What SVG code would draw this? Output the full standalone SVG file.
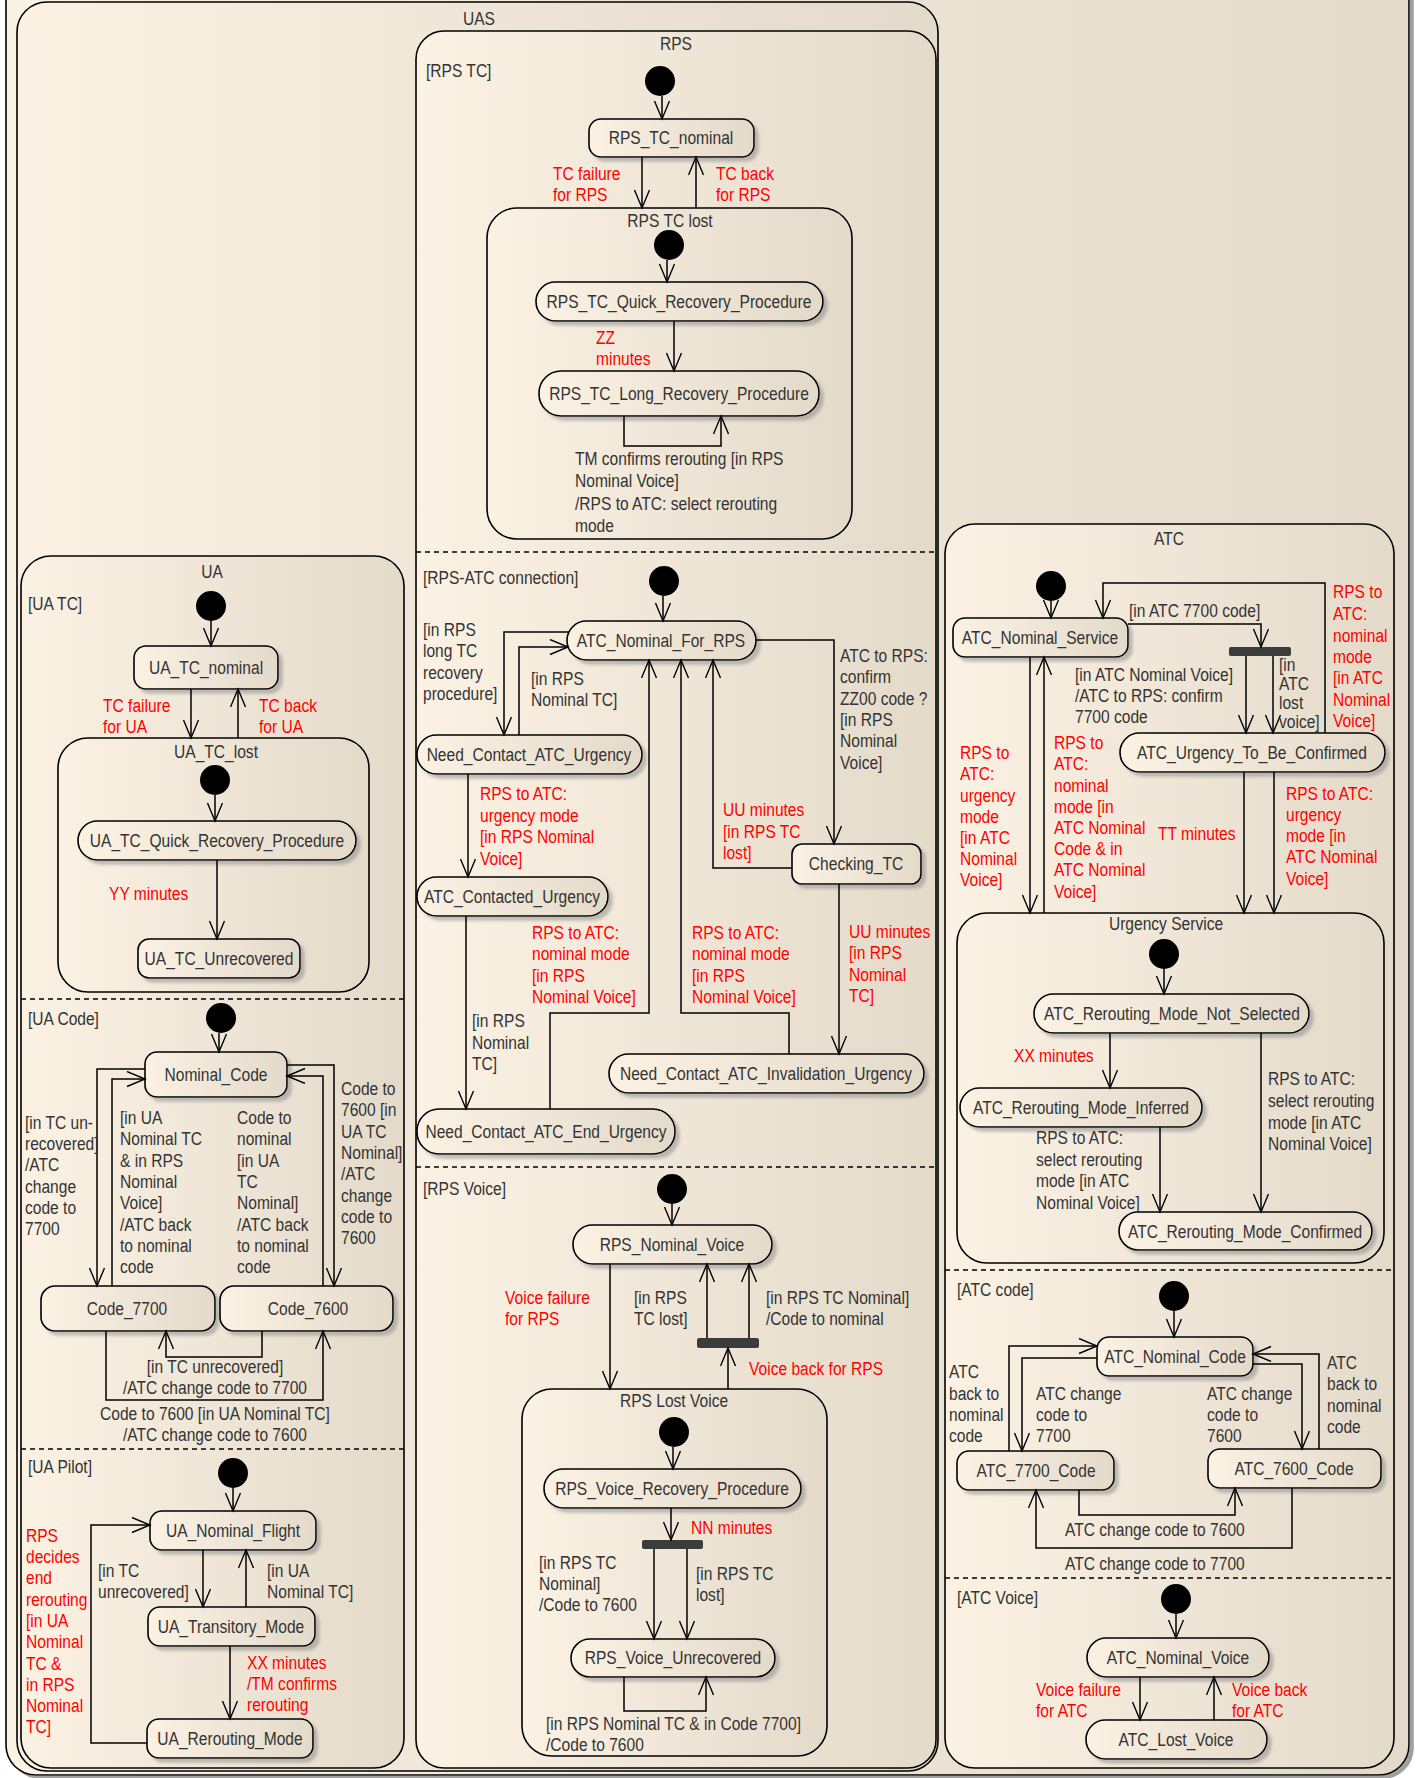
<svg xmlns="http://www.w3.org/2000/svg" width="1418" height="1778" viewBox="0 0 1418 1778">
<defs>
<linearGradient id="g" x1="0" y1="0" x2="1" y2="0">
<stop offset="0" stop-color="#FBF2E4"/><stop offset="1" stop-color="#E4DACA"/>
</linearGradient>
<filter id="sh" x="-10%" y="-20%" width="130%" height="160%">
<feDropShadow dx="4" dy="4" stdDeviation="1.5" flood-color="#7a7a7a" flood-opacity="0.45"/>
</filter>
<filter id="sh2" x="-5%" y="-5%" width="110%" height="110%">
<feDropShadow dx="4" dy="3" stdDeviation="0.6" flood-color="#888" flood-opacity="0.8"/>
</filter>
<marker id="a" markerUnits="userSpaceOnUse" markerWidth="22" markerHeight="18" refX="19" refY="8" orient="auto">
<path d="M1,0.5 L19,8 L1,15.5" fill="none" stroke="#000" stroke-width="1.4"/>
</marker>
<style>
.ct{fill:url(#g);stroke:#000;stroke-width:1.6}
.st{fill:url(#g);stroke:#000;stroke-width:1.6;filter:url(#sh)}
.dot{fill:#000}
.bar{fill:#3c3c3c}
.c{fill:none;stroke:#000;stroke-width:1.5;marker-end:url(#a)}
.d{fill:none;stroke:#000;stroke-width:1.3;stroke-dasharray:5 4}
text{font-family:"Liberation Sans Narrow","Liberation Sans",Arial,sans-serif;font-size:19px;fill:#333;transform-box:fill-box;transform-origin:0% 50%;transform:scaleX(0.82)}
.m{text-anchor:middle;transform-origin:50% 50%}
.r{fill:#FF0000}
</style>
</defs>

<g id="containers">
<rect x="6" y="-40" width="1403" height="1815" rx="30" class="ct" filter="url(#sh2)"/>
<rect id="UAS" x="17" y="2" width="921" height="1769" rx="30" class="ct"/>
<text class="m" x="479" y="25">UAS</text>
<rect id="RPS" x="416" y="31" width="520" height="1737" rx="28" class="ct"/>
<text class="m" x="676" y="50">RPS</text>
<line class="d" x1="416" y1="552" x2="936" y2="552"/>
<line class="d" x1="416" y1="1167" x2="936" y2="1167"/>
<text x="426" y="77">[RPS TC]</text>
<text x="423" y="584">[RPS-ATC connection]</text>
<text x="423" y="1195">[RPS Voice]</text>
<g id="RPS_TC_lost">
<rect x="487" y="208" width="365" height="331" rx="30" class="ct"/>
<text class="m" x="670" y="227">RPS TC lost</text>
</g>
<g id="RPS_Lost_Voice">
<rect x="522" y="1389" width="305" height="367" rx="30" class="ct"/>
<text class="m" x="674" y="1407">RPS Lost Voice</text>
</g>
<rect id="UA" x="21" y="556" width="383" height="1212" rx="30" class="ct"/>
<text class="m" x="212" y="578">UA</text>
<line class="d" x1="21" y1="999" x2="404" y2="999"/>
<line class="d" x1="21" y1="1449" x2="404" y2="1449"/>
<text x="28" y="610">[UA TC]</text>
<text x="28" y="1025">[UA Code]</text>
<text x="28" y="1473">[UA Pilot]</text>
<g id="UA_TC_lost">
<rect x="58" y="738" width="311" height="254" rx="30" class="ct"/>
<text class="m" x="216" y="758">UA_TC_lost</text>
</g>
<rect id="ATC" x="945" y="524" width="449" height="1244" rx="30" class="ct"/>
<text class="m" x="1169" y="545">ATC</text>
<line class="d" x1="945" y1="1270" x2="1394" y2="1270"/>
<line class="d" x1="945" y1="1578" x2="1394" y2="1578"/>
<text x="957" y="1296">[ATC code]</text>
<text x="957" y="1604">[ATC Voice]</text>
<g id="Urgency_Service">
<rect x="957" y="913" width="427" height="350" rx="30" class="ct"/>
<text class="m" x="1166" y="930">Urgency Service</text>
</g>
</g>

<g id="initial">
<circle class="dot" cx="660" cy="81" r="15"/>
<circle class="dot" cx="669" cy="245" r="15"/>
<circle class="dot" cx="664" cy="581" r="15"/>
<circle class="dot" cx="672" cy="1189" r="15"/>
<circle class="dot" cx="674" cy="1432" r="15"/>
<circle class="dot" cx="211" cy="606" r="15"/>
<circle class="dot" cx="215" cy="780" r="15"/>
<circle class="dot" cx="221" cy="1018" r="15"/>
<circle class="dot" cx="233" cy="1473" r="15"/>
<circle class="dot" cx="1051" cy="586" r="15"/>
<circle class="dot" cx="1164" cy="954" r="15"/>
<circle class="dot" cx="1174" cy="1296" r="15"/>
<circle class="dot" cx="1176" cy="1599" r="15"/>
<rect class="bar" x="697" y="1338" width="62" height="10" rx="2"/>
<rect class="bar" x="642" y="1540" width="61" height="9" rx="2"/>
<rect class="bar" x="1229" y="647" width="62" height="9" rx="2"/>
</g>

<g id="RPS_TC_nominal"><rect class="st" x="589" y="119" width="165" height="38" rx="12"/><text class="m" x="671" y="144">RPS_TC_nominal</text></g>
<g id="RPS_TC_Quick_Recovery_Procedure"><rect class="st" x="536" y="282" width="287" height="39" rx="19.5"/><text class="m" x="679" y="308">RPS_TC_Quick_Recovery_Procedure</text></g>
<g id="RPS_TC_Long_Recovery_Procedure"><rect class="st" x="539" y="371" width="280" height="45" rx="22"/><text class="m" x="679" y="400">RPS_TC_Long_Recovery_Procedure</text></g>
<g id="ATC_Nominal_For_RPS"><rect class="st" x="567" y="621" width="189" height="39" rx="19.5"/><text class="m" x="661" y="647">ATC_Nominal_For_RPS</text></g>
<g id="Need_Contact_ATC_Urgency"><rect class="st" x="417" y="735" width="225" height="39" rx="19.5"/><text class="m" x="529" y="761">Need_Contact_ATC_Urgency</text></g>
<g id="ATC_Contacted_Urgency"><rect class="st" x="417" y="877" width="191" height="39" rx="19.5"/><text class="m" x="512" y="903">ATC_Contacted_Urgency</text></g>
<g id="Checking_TC"><rect class="st" x="792" y="844" width="129" height="40" rx="10"/><text class="m" x="856" y="870">Checking_TC</text></g>
<g id="Need_Contact_ATC_Invalidation_Urgency"><rect class="st" x="609" y="1054" width="315" height="39" rx="19.5"/><text class="m" x="766" y="1080">Need_Contact_ATC_Invalidation_Urgency</text></g>
<g id="Need_Contact_ATC_End_Urgency"><rect class="st" x="417" y="1109" width="258" height="45" rx="22"/><text class="m" x="546" y="1138">Need_Contact_ATC_End_Urgency</text></g>
<g id="RPS_Nominal_Voice"><rect class="st" x="573" y="1225" width="199" height="39" rx="19.5"/><text class="m" x="672" y="1251">RPS_Nominal_Voice</text></g>
<g id="RPS_Voice_Recovery_Procedure"><rect class="st" x="544" y="1469" width="257" height="39" rx="19.5"/><text class="m" x="672" y="1495">RPS_Voice_Recovery_Procedure</text></g>
<g id="RPS_Voice_Unrecovered"><rect class="st" x="571" y="1639" width="204" height="38" rx="19"/><text class="m" x="673" y="1664">RPS_Voice_Unrecovered</text></g>
<g id="UA_TC_nominal"><rect class="st" x="134" y="646" width="144" height="43" rx="12"/><text class="m" x="206" y="674">UA_TC_nominal</text></g>
<g id="UA_TC_Quick_Recovery_Procedure"><rect class="st" x="78" y="821" width="278" height="39" rx="19.5"/><text class="m" x="217" y="847">UA_TC_Quick_Recovery_Procedure</text></g>
<g id="UA_TC_Unrecovered"><rect class="st" x="138" y="939" width="162" height="39" rx="11"/><text class="m" x="219" y="965">UA_TC_Unrecovered</text></g>
<g id="Nominal_Code"><rect class="st" x="145" y="1052" width="142" height="45" rx="12"/><text class="m" x="216" y="1081">Nominal_Code</text></g>
<g id="Code_7700"><rect class="st" x="41" y="1286" width="174" height="45" rx="14"/><text class="m" x="127" y="1315">Code_7700</text></g>
<g id="Code_7600"><rect class="st" x="220" y="1286" width="173" height="45" rx="14"/><text class="m" x="308" y="1315">Code_7600</text></g>
<g id="UA_Nominal_Flight"><rect class="st" x="150" y="1511" width="166" height="39" rx="12"/><text class="m" x="233" y="1537">UA_Nominal_Flight</text></g>
<g id="UA_Transitory_Mode"><rect class="st" x="148" y="1607" width="167" height="39" rx="12"/><text class="m" x="231" y="1633">UA_Transitory_Mode</text></g>
<g id="UA_Rerouting_Mode"><rect class="st" x="147" y="1719" width="166" height="39" rx="12"/><text class="m" x="230" y="1745">UA_Rerouting_Mode</text></g>
<g id="ATC_Nominal_Service"><rect class="st" x="953" y="618" width="175" height="39" rx="12"/><text class="m" x="1040" y="644">ATC_Nominal_Service</text></g>
<g id="ATC_Urgency_To_Be_Confirmed"><rect class="st" x="1120" y="733" width="265" height="39" rx="19.5"/><text class="m" x="1252" y="759">ATC_Urgency_To_Be_Confirmed</text></g>
<g id="ATC_Rerouting_Mode_Not_Selected"><rect class="st" x="1034" y="994" width="275" height="39" rx="19.5"/><text class="m" x="1172" y="1020">ATC_Rerouting_Mode_Not_Selected</text></g>
<g id="ATC_Rerouting_Mode_Inferred"><rect class="st" x="960" y="1088" width="242" height="39" rx="19.5"/><text class="m" x="1081" y="1114">ATC_Rerouting_Mode_Inferred</text></g>
<g id="ATC_Rerouting_Mode_Confirmed"><rect class="st" x="1119" y="1212" width="253" height="38" rx="19"/><text class="m" x="1245" y="1238">ATC_Rerouting_Mode_Confirmed</text></g>
<g id="ATC_Nominal_Code"><rect class="st" x="1097" y="1337" width="156" height="39" rx="12"/><text class="m" x="1175" y="1363">ATC_Nominal_Code</text></g>
<g id="ATC_7700_Code"><rect class="st" x="957" y="1451" width="157" height="39" rx="12"/><text class="m" x="1036" y="1477">ATC_7700_Code</text></g>
<g id="ATC_7600_Code"><rect class="st" x="1208" y="1449" width="173" height="39" rx="12"/><text class="m" x="1294" y="1475">ATC_7600_Code</text></g>
<g id="ATC_Nominal_Voice"><rect class="st" x="1087" y="1638" width="182" height="39" rx="19.5"/><text class="m" x="1178" y="1664">ATC_Nominal_Voice</text></g>
<g id="ATC_Lost_Voice"><rect class="st" x="1086" y="1720" width="181" height="39" rx="19.5"/><text class="m" x="1176" y="1746">ATC_Lost_Voice</text></g>

<g id="connectors">
<path class="c" d="M662,96 V119"/>
<path class="c" d="M667,260 V282"/>
<path class="c" d="M663,596 V621"/>
<path class="c" d="M672,1204 V1225"/>
<path class="c" d="M673,1447 V1469"/>
<path class="c" d="M211,621 V646"/>
<path class="c" d="M215,795 V821"/>
<path class="c" d="M219,1033 V1052"/>
<path class="c" d="M233,1488 V1511"/>
<path class="c" d="M1051,601 V618"/>
<path class="c" d="M1164,969 V994"/>
<path class="c" d="M1174,1311 V1337"/>
<path class="c" d="M1176,1614 V1638"/>

<path class="c" d="M642,157 V208"/>
<path class="c" d="M696,208 V157"/>
<path class="c" d="M674,321 V371"/>
<path class="c" d="M624,416 V446 H721 V416"/>

<path class="c" d="M569,632 H504 V735"/>
<path class="c" d="M519,735 V647 H568"/>
<path class="c" d="M756,640 H834 V844"/>
<path class="c" d="M792,868 H713 V660"/>
<path class="c" d="M468,774 V877"/>
<path class="c" d="M466,916 V1109"/>
<path class="c" d="M550,1109 V1013 H649 V660"/>
<path class="c" d="M789,1054 V1013 H681 V660"/>
<path class="c" d="M839,884 V1054"/>

<path class="c" d="M610,1264 V1389"/>
<path class="c" d="M707,1338 V1264"/>
<path class="c" d="M749,1338 V1264"/>
<path class="c" d="M728,1389 V1348"/>
<path class="c" d="M671,1508 V1540"/>
<path class="c" d="M654,1549 V1639"/>
<path class="c" d="M687,1549 V1639"/>
<path class="c" d="M624,1677 V1711 H706 V1677"/>

<path class="c" d="M191,689 V738"/>
<path class="c" d="M238,738 V689"/>
<path class="c" d="M217,860 V939"/>

<path class="c" d="M145,1069 H97 V1286"/>
<path class="c" d="M112,1286 V1079 H145"/>
<path class="c" d="M323,1286 V1076 H287"/>
<path class="c" d="M287,1065 H334 V1286"/>
<path class="c" d="M262,1331 V1357 H166 V1331"/>
<path class="c" d="M106,1331 V1400 H323 V1331"/>

<path class="c" d="M203,1550 V1607"/>
<path class="c" d="M246,1607 V1550"/>
<path class="c" d="M230,1646 V1719"/>
<path class="c" d="M147,1743 H91 V1525 H150"/>

<path class="c" d="M1325,733 V583 H1103 V618"/>
<path class="c" d="M1128,624 H1261 V647"/>
<path class="c" d="M1246,656 V733"/>
<path class="c" d="M1273,656 V733"/>
<path class="c" d="M1030,657 V913"/>
<path class="c" d="M1044,913 V657"/>
<path class="c" d="M1244,772 V913"/>
<path class="c" d="M1274,772 V913"/>

<path class="c" d="M1110,1033 V1088"/>
<path class="c" d="M1261,1033 V1212"/>
<path class="c" d="M1160,1127 V1212"/>

<path class="c" d="M1009,1451 V1346 H1097"/>
<path class="c" d="M1097,1358 H1022 V1451"/>
<path class="c" d="M1253,1364 H1302 V1449"/>
<path class="c" d="M1319,1449 V1354 H1253"/>
<path class="c" d="M1079,1490 V1515 H1235 V1488"/>
<path class="c" d="M1292,1488 V1548 H1036 V1490"/>

<path class="c" d="M1140,1677 V1720"/>
<path class="c" d="M1214,1720 V1677"/>
</g>

<g id="labels">
<text class="r" x="553" y="180">TC failure<tspan x="553" y="201">for RPS</tspan></text>
<text class="r" x="716" y="180">TC back<tspan x="716" y="201">for RPS</tspan></text>
<text class="r" x="596" y="344">ZZ<tspan x="596" y="365">minutes</tspan></text>
<text x="575" y="465">TM confirms rerouting [in RPS<tspan x="575" y="487">Nominal Voice]</tspan><tspan x="575" y="510">/RPS to ATC: select rerouting</tspan><tspan x="575" y="532">mode</tspan></text>

<text x="423" y="636">[in RPS<tspan x="423" y="657">long TC</tspan><tspan x="423" y="679">recovery</tspan><tspan x="423" y="700">procedure]</tspan></text>
<text x="531" y="685">[in RPS<tspan x="531" y="706">Nominal TC]</tspan></text>
<text x="840" y="662">ATC to RPS:<tspan x="840" y="683">confirm</tspan><tspan x="840" y="705">ZZ00 code ?</tspan><tspan x="840" y="726">[in RPS</tspan><tspan x="840" y="747">Nominal</tspan><tspan x="840" y="769">Voice]</tspan></text>
<text class="r" x="480" y="800">RPS to ATC:<tspan x="480" y="822">urgency mode</tspan><tspan x="480" y="843">[in RPS Nominal</tspan><tspan x="480" y="865">Voice]</tspan></text>
<text class="r" x="723" y="816">UU minutes<tspan x="723" y="838">[in RPS TC</tspan><tspan x="723" y="859">lost]</tspan></text>
<text class="r" x="532" y="939">RPS to ATC:<tspan x="532" y="960">nominal mode</tspan><tspan x="532" y="982">[in RPS</tspan><tspan x="532" y="1003">Nominal Voice]</tspan></text>
<text class="r" x="692" y="939">RPS to ATC:<tspan x="692" y="960">nominal mode</tspan><tspan x="692" y="982">[in RPS</tspan><tspan x="692" y="1003">Nominal Voice]</tspan></text>
<text class="r" x="849" y="938">UU minutes<tspan x="849" y="959">[in RPS</tspan><tspan x="849" y="981">Nominal</tspan><tspan x="849" y="1002">TC]</tspan></text>
<text x="472" y="1027">[in RPS<tspan x="472" y="1049">Nominal</tspan><tspan x="472" y="1070">TC]</tspan></text>

<text class="r" x="505" y="1304">Voice failure<tspan x="505" y="1325">for RPS</tspan></text>
<text x="634" y="1304">[in RPS<tspan x="634" y="1325">TC lost]</tspan></text>
<text x="766" y="1304">[in RPS TC Nominal]<tspan x="766" y="1325">/Code to nominal</tspan></text>
<text class="r" x="749" y="1375">Voice back for RPS</text>
<text class="r" x="691" y="1534">NN minutes</text>
<text x="539" y="1569">[in RPS TC<tspan x="539" y="1590">Nominal]</tspan><tspan x="539" y="1611">/Code to 7600</tspan></text>
<text x="696" y="1580">[in RPS TC<tspan x="696" y="1601">lost]</tspan></text>
<text x="546" y="1730">[in RPS Nominal TC &amp; in Code 7700]<tspan x="546" y="1751">/Code to 7600</tspan></text>

<text class="r" x="103" y="712">TC failure<tspan x="103" y="733">for UA</tspan></text>
<text class="r" x="259" y="712">TC back<tspan x="259" y="733">for UA</tspan></text>
<text class="r" x="109" y="900">YY minutes</text>

<text x="25" y="1129">[in TC un-<tspan x="25" y="1150">recovered]</tspan><tspan x="25" y="1171">/ATC</tspan><tspan x="25" y="1193">change</tspan><tspan x="25" y="1214">code to</tspan><tspan x="25" y="1235">7700</tspan></text>
<text x="120" y="1124">[in UA<tspan x="120" y="1145">Nominal TC</tspan><tspan x="120" y="1167">&amp; in RPS</tspan><tspan x="120" y="1188">Nominal</tspan><tspan x="120" y="1209">Voice]</tspan><tspan x="120" y="1231">/ATC back</tspan><tspan x="120" y="1252">to nominal</tspan><tspan x="120" y="1273">code</tspan></text>
<text x="237" y="1124">Code to<tspan x="237" y="1145">nominal</tspan><tspan x="237" y="1167">[in UA</tspan><tspan x="237" y="1188">TC</tspan><tspan x="237" y="1209">Nominal]</tspan><tspan x="237" y="1231">/ATC back</tspan><tspan x="237" y="1252">to nominal</tspan><tspan x="237" y="1273">code</tspan></text>
<text x="341" y="1095">Code to<tspan x="341" y="1116">7600 [in</tspan><tspan x="341" y="1138">UA TC</tspan><tspan x="341" y="1159">Nominal]</tspan><tspan x="341" y="1180">/ATC</tspan><tspan x="341" y="1202">change</tspan><tspan x="341" y="1223">code to</tspan><tspan x="341" y="1244">7600</tspan></text>
<text class="m" x="215" y="1373">[in TC unrecovered]<tspan x="215" y="1394">/ATC change code to 7700</tspan></text>
<text class="m" x="215" y="1420">Code to 7600 [in UA Nominal TC]<tspan x="215" y="1441">/ATC change code to 7600</tspan></text>

<text x="98" y="1577">[in TC<tspan x="98" y="1598">unrecovered]</tspan></text>
<text x="267" y="1577">[in UA<tspan x="267" y="1598">Nominal TC]</tspan></text>
<text class="r" x="247" y="1669">XX minutes<tspan x="247" y="1690">/TM confirms</tspan><tspan x="247" y="1711">rerouting</tspan></text>
<text class="r" x="26" y="1542">RPS<tspan x="26" y="1563">decides</tspan><tspan x="26" y="1584">end</tspan><tspan x="26" y="1606">rerouting</tspan><tspan x="26" y="1627">[in UA</tspan><tspan x="26" y="1648">Nominal</tspan><tspan x="26" y="1670">TC &amp;</tspan><tspan x="26" y="1691">in RPS</tspan><tspan x="26" y="1712">Nominal</tspan><tspan x="26" y="1733">TC]</tspan></text>

<text x="1129" y="617">[in ATC 7700 code]</text>
<text class="r" x="1333" y="598">RPS to<tspan x="1333" y="620">ATC:</tspan><tspan x="1333" y="642">nominal</tspan><tspan x="1333" y="663">mode</tspan><tspan x="1333" y="684">[in ATC</tspan><tspan x="1333" y="706">Nominal</tspan><tspan x="1333" y="727">Voice]</tspan></text>
<text x="1279" y="671">[in<tspan x="1279" y="690">ATC</tspan><tspan x="1279" y="709">lost</tspan><tspan x="1279" y="728">voice]</tspan></text>
<text x="1075" y="681">[in ATC Nominal Voice]<tspan x="1075" y="702">/ATC to RPS: confirm</tspan><tspan x="1075" y="723">7700 code</tspan></text>
<text class="r" x="960" y="759">RPS to<tspan x="960" y="780">ATC:</tspan><tspan x="960" y="802">urgency</tspan><tspan x="960" y="823">mode</tspan><tspan x="960" y="844">[in ATC</tspan><tspan x="960" y="865">Nominal</tspan><tspan x="960" y="886">Voice]</tspan></text>
<text class="r" x="1054" y="749">RPS to<tspan x="1054" y="770">ATC:</tspan><tspan x="1054" y="792">nominal</tspan><tspan x="1054" y="813">mode [in</tspan><tspan x="1054" y="834">ATC Nominal</tspan><tspan x="1054" y="855">Code &amp; in</tspan><tspan x="1054" y="876">ATC Nominal</tspan><tspan x="1054" y="898">Voice]</tspan></text>
<text class="r" x="1158" y="840">TT minutes</text>
<text class="r" x="1286" y="800">RPS to ATC:<tspan x="1286" y="821">urgency</tspan><tspan x="1286" y="842">mode [in</tspan><tspan x="1286" y="863">ATC Nominal</tspan><tspan x="1286" y="885">Voice]</tspan></text>

<text class="r" x="1014" y="1062">XX minutes</text>
<text x="1268" y="1085">RPS to ATC:<tspan x="1268" y="1107">select rerouting</tspan><tspan x="1268" y="1129">mode [in ATC</tspan><tspan x="1268" y="1150">Nominal Voice]</tspan></text>
<text x="1036" y="1144">RPS to ATC:<tspan x="1036" y="1166">select rerouting</tspan><tspan x="1036" y="1187">mode [in ATC</tspan><tspan x="1036" y="1209">Nominal Voice]</tspan></text>

<text x="949" y="1378">ATC<tspan x="949" y="1400">back to</tspan><tspan x="949" y="1421">nominal</tspan><tspan x="949" y="1442">code</tspan></text>
<text x="1036" y="1400">ATC change<tspan x="1036" y="1421">code to</tspan><tspan x="1036" y="1442">7700</tspan></text>
<text x="1207" y="1400">ATC change<tspan x="1207" y="1421">code to</tspan><tspan x="1207" y="1442">7600</tspan></text>
<text x="1327" y="1369">ATC<tspan x="1327" y="1390">back to</tspan><tspan x="1327" y="1412">nominal</tspan><tspan x="1327" y="1433">code</tspan></text>
<text x="1065" y="1536">ATC change code to 7600</text>
<text x="1065" y="1570">ATC change code to 7700</text>

<text class="r" x="1036" y="1696">Voice failure<tspan x="1036" y="1717">for ATC</tspan></text>
<text class="r" x="1232" y="1696">Voice back<tspan x="1232" y="1717">for ATC</tspan></text>
</g>
</svg>
